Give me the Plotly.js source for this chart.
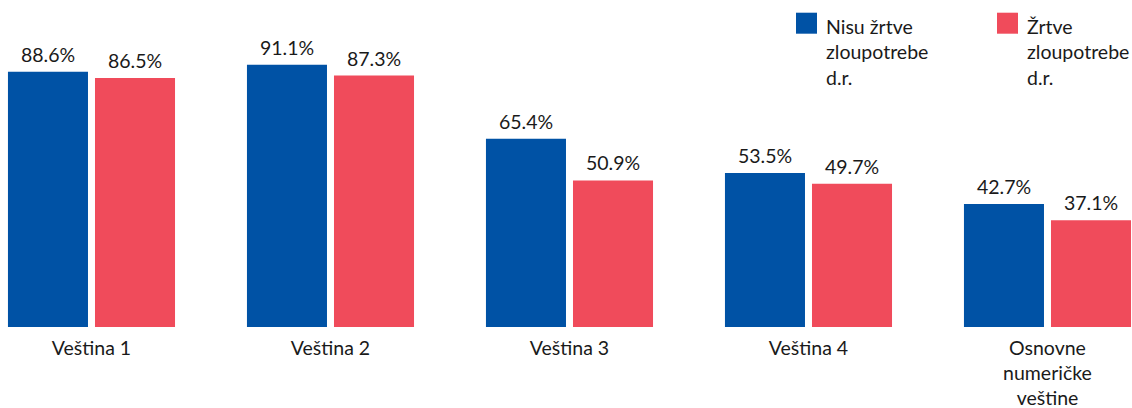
<!DOCTYPE html>
<html>
<head>
<meta charset="utf-8">
<script src="https://cdn.plot.ly/plotly-3.0.1.min.js"></script>
<style>html,body{margin:0;padding:0;background:#fff;}#chart{width:1132px;height:408px;}</style>
</head>
<body>
<div id="chart"></div>
<script>
var categories = ["Veština 1", "Veština 2", "Veština 3", "Veština 4", "Osnovne<br>numeričke<br>veštine"];
var seriesNames = ["Nisu žrtve<br>zloupotrebe<br>d.r.", "Žrtve<br>zloupotrebe<br>d.r."];
var notVictims = [88.6, 91.1, 65.4, 53.5, 42.7];
var victims = [86.5, 87.3, 50.9, 49.7, 37.1];

var BLUE = "#0052A5", RED = "#F04B5B";
var FONT = "Lato, 'Noto Sans', sans-serif";
var FS = 19.5;
var W = 1132, H = 408, T = 39, B = 81;
function px(x){ return x / W; }
function py(y){ return (H - B - y) / (H - T - B); }

function fmt(v){ return v.toFixed(1) + "%"; }

var traces = [
  {type:"bar", name: seriesNames[0], x: categories, y: notVictims, marker:{color: BLUE}, hoverinfo:"none"},
  {type:"bar", name: seriesNames[1], x: categories, y: victims, marker:{color: RED}, hoverinfo:"none"}
];

var shapes = [], annotations = [];
// value labels above bars (group offset = half bar slot, in px)
var series = [notVictims, victims];
var offsets = [-43.5, 43.5];
for (var s = 0; s < 2; s++) {
  for (var c = 0; c < categories.length; c++) {
    annotations.push({xref:"x", yref:"y", x: categories[c], y: series[s][c],
      xshift: offsets[s], yshift: 4, xanchor:"center", yanchor:"bottom",
      showarrow:false, text: fmt(series[s][c]),
      font:{family: FONT, size: FS, color:"#1a1a1a"}});
  }
}

var legendColors = [BLUE, RED];
var legendX = [796, 997];
for (var i = 0; i < 2; i++) {
  shapes.push({type:"rect", xref:"paper", yref:"paper",
    x0: px(legendX[i]), x1: px(legendX[i] + 21), y0: py(33.7), y1: py(12.7),
    fillcolor: legendColors[i], line:{width:0}});
  annotations.push({xref:"paper", yref:"paper", x: px(legendX[i] + 28), y: py(13),
    xanchor:"left", yanchor:"top", align:"left", showarrow:false,
    text: seriesNames[i], font:{family: FONT, size: FS, color:"#1a1a1a"}});
}

var layout = {
  width: W, height: H,
  margin:{l:0, r:0, t:T, b:B, pad:0},
  paper_bgcolor:"#fff", plot_bgcolor:"#fff",
  showlegend:false,
  barmode:"group", bargap:0.2717, bargroupgap:0.0805,
  font:{family: FONT, size: FS, color:"#1a1a1a"},
  xaxis:{type:"category", range:[-0.3828, 4.3536], showgrid:false, zeroline:false,
         showline:false, ticks:"", ticklabelstandoff: 7,
         tickfont:{family: FONT, size: FS, color:"#1a1a1a"}},
  yaxis:{range:[0,100], visible:false, showgrid:false, zeroline:false},
  shapes: shapes, annotations: annotations
};

Plotly.newPlot("chart", traces, layout, {displayModeBar:false, staticPlot:true});
</script>
</body>
</html>
